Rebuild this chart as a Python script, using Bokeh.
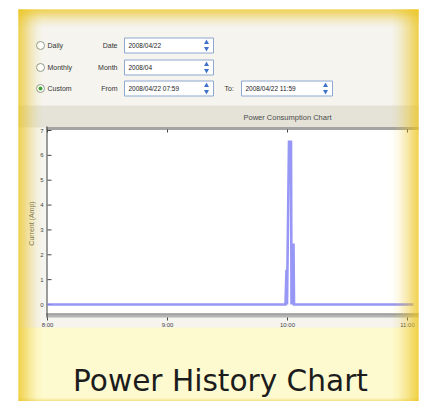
import math
import pandas as pd
from bokeh.plotting import figure
from bokeh.models import Range1d, ColumnDataSource
from bokeh.core.properties import value
from bokeh.embed import file_html
from bokeh.resources import INLINE

# ---------------- data ----------------
sample_times = ["2008-04-22 08:00:00", "2008-04-22 09:59:00", "2008-04-22 09:59:30",
                "2008-04-22 09:59:45", "2008-04-22 10:00:45", "2008-04-22 10:01:45",
                "2008-04-22 10:02:00", "2008-04-22 10:02:15", "2008-04-22 10:03:00",
                "2008-04-22 10:03:15", "2008-04-22 11:03:00"]
current_amp = [0, 0, 1.4, 0, 6.55, 6.55, 0, 2.4, 2.4, 0, 0]

x_tick_times = ["2008-04-22 08:00", "2008-04-22 09:00", "2008-04-22 10:00", "2008-04-22 11:00"]
x_tick_labels = ["8:00", "9:00", "10:00", "11:00"]
y_ticks = [0, 1, 2, 3, 4, 5, 6, 7]
y_tick_labels = ["0", "1", "2", "3", "4", "5", "6", "7"]

mode_labels = ["Daily", "Monthly", "Custom"]
mode_checked = [False, False, True]
field_labels = ["Date", "Month", "From"]
field_values = ["2008/04/22", "2008/04", "2008/04/22 07:59"]
to_label = "To:"
to_value = "2008/04/22 11:59"
chart_title = "Power Consumption Chart"
y_axis_title = "Current (Amp)"
caption = "Power History Chart"

# ---------------- layout (reference pixel coordinates) ----------------
W, H = 425, 401
REF_X0, REF_Y1 = 0, 401


def fy(ry):
    """reference y (down) -> figure y (up)"""
    return REF_Y1 - ry


t0 = pd.Timestamp(sample_times[0])
PX_PER_HOUR = 120.0
CHART_X0 = 47              # ref x of 8:00
ZERO_Y = 304               # ref y of value 0
PX_PER_UNIT = (304 - 130) / 7.0

time_start = t0 - pd.Timedelta(hours=(CHART_X0 - REF_X0) / PX_PER_HOUR)
time_end = t0 + pd.Timedelta(hours=(REF_X0 + W - CHART_X0) / PX_PER_HOUR)
val_bottom = -(REF_Y1 - ZERO_Y) / PX_PER_UNIT
val_top = (ZERO_Y - (REF_Y1 - H)) / PX_PER_UNIT

p = figure(width=W, height=H, output_backend="svg", toolbar_location=None,
           x_range=Range1d(REF_X0, REF_X0 + W), y_range=Range1d(0, H),
           x_axis_location=None, y_axis_location=None, title=None,
           min_border=0, outline_line_color=None,
           background_fill_color="white", border_fill_color="white")
p.grid.visible = False
p.extra_x_ranges = {"time": Range1d(time_start.to_pydatetime(), time_end.to_pydatetime())}
p.extra_y_ranges = {"val": Range1d(val_bottom, val_top)}

UI_FONT = value("Liberation Sans")


def rect(x0, x1, ry0, ry1, color, alpha=1.0, line=None):
    p.quad(left=[x0], right=[x1], top=[fy(ry0)], bottom=[fy(ry1)], fill_color=color,
           fill_alpha=alpha, line_color=line, line_width=1)


# frame base
rect(18, 418, 9, 401, "#fefad0")
# screenshot panel
rect(18, 418, 9, 327, "#f5f4ef")
rect(18, 418, 105, 127, "#e5e3d8")
# chart area
rect(46, 418, 128, 313, "#ffffff")
rect(46, 418, 126.5, 129.5, "#a4a4a4")
rect(46, 418, 313, 317, "#b4b4b4")
p.segment(x0=[46], x1=[418], y0=[fy(313.5)], y1=[fy(313.5)], line_color="#8a8a8a", line_width=1)
p.segment(x0=[46.5], x1=[46.5], y0=[fy(126)], y1=[fy(317)], line_color="#3a3a3a", line_width=1)

# chart title
p.text(x=[287], y=[fy(117)], text=[chart_title], text_align="center", text_baseline="middle",
       text_font=UI_FONT, text_font_size="7.5px", text_color="#4a4a4a")

# y ticks / labels
p.segment(x0=[47] * len(y_ticks), x1=[51] * len(y_ticks), y0=y_ticks, y1=y_ticks,
          y_range_name="val", line_color="#444444", line_width=1)
p.text(x=[43] * len(y_ticks), y=y_ticks, text=y_tick_labels, y_range_name="val",
       text_align="right", text_baseline="middle", text_font=UI_FONT,
       text_font_size="6px", text_color="#444444")
p.text(x=[31], y=[fy(223)], text=[y_axis_title], angle=math.pi / 2, text_align="center",
       text_baseline="middle", text_font=UI_FONT, text_font_size="7px", text_color="#666666")

# x ticks / labels
xt = [pd.Timestamp(t) for t in x_tick_times]
p.segment(x0=xt, x1=xt, y0=[fy(317)] * len(xt), y1=[fy(320)] * len(xt), x_range_name="time",
          line_color="#444444", line_width=1)
p.segment(x0=xt, x1=xt, y0=[fy(129)] * len(xt), y1=[fy(132)] * len(xt), x_range_name="time",
          line_color="#444444", line_width=1)
p.text(x=xt, y=[fy(324)] * len(xt), text=x_tick_labels, x_range_name="time",
       text_align="center", text_baseline="middle", text_font=UI_FONT,
       text_font_size="6px", text_color="#444444")

# data line
src = ColumnDataSource(dict(t=[pd.Timestamp(s) for s in sample_times], a=current_amp))
p.line(x="t", y="a", source=src, x_range_name="time", y_range_name="val",
       line_color="#8c8cf4", line_width=2.6, line_alpha=0.9, line_join="miter")

# ---------------- controls ----------------
row_y = [45, 67, 88]
for i in range(3):
    ry = row_y[i]
    p.scatter(x=[40], y=[fy(ry)], marker="circle", size=8, fill_color="white",
              line_color="#8f9a8f", line_width=1)
    if mode_checked[i]:
        p.scatter(x=[40], y=[fy(ry)], marker="circle", size=4, fill_color="#3aa33a",
                  line_color=None)
    p.text(x=[47], y=[fy(ry)], text=[mode_labels[i]], text_baseline="middle",
           text_font=UI_FONT, text_font_size="7px", text_color="#333333")
    p.text(x=[117], y=[fy(ry)], text=[field_labels[i]], text_align="right",
           text_baseline="middle", text_font=UI_FONT, text_font_size="7px", text_color="#333333")
    rect(124, 213, ry - 7.5, ry + 7.5, "white", line="#8ea8d0")
    p.text(x=[128], y=[fy(ry)], text=[field_values[i]], text_baseline="middle",
           text_font=UI_FONT, text_font_size="6.5px", text_color="#222222")
    p.scatter(x=[206, 206], y=[fy(ry - 3), fy(ry + 3)], marker="triangle", angle=[0, math.pi],
              size=5, fill_color="#3f72c8", line_color=None)

ry = row_y[2]
p.text(x=[224], y=[fy(ry)], text=[to_label], text_baseline="middle",
       text_font=UI_FONT, text_font_size="7px", text_color="#333333")
rect(241, 332, ry - 7.5, ry + 7.5, "white", line="#8ea8d0")
p.text(x=[245], y=[fy(ry)], text=[to_value], text_baseline="middle",
       text_font=UI_FONT, text_font_size="6.5px", text_color="#222222")
p.scatter(x=[325, 325], y=[fy(ry - 3), fy(ry + 3)], marker="triangle", angle=[0, math.pi],
          size=5, fill_color="#3f72c8", line_color=None)

# ---------------- yellow vignette ----------------
YEL = "#ecc41a"
L, R, T, B, A = [], [], [], [], []
gx0, gx1, gy0, gy1 = 18, 418, 9, 401
lw, rw, tw = 26, 30, 20
for i in range(lw):
    t = i / lw
    L.append(gx0 + i); R.append(gx0 + i + 1); T.append(fy(gy0)); B.append(fy(gy1))
    A.append(0.95 * (1 - t) ** 2)
for i in range(rw):
    t = i / rw
    L.append(gx1 - i - 1); R.append(gx1 - i); T.append(fy(gy0)); B.append(fy(gy1))
    A.append(1.0 * (1 - t) ** 2)
for i in range(tw):
    t = i / tw
    L.append(gx0); R.append(gx1); T.append(fy(gy0 + i)); B.append(fy(gy0 + i + 1))
    A.append(0.9 * (1 - t) ** 2)
for i in range(4):
    t = i / 4
    L.append(gx0); R.append(gx1); T.append(fy(gy1 - i - 1)); B.append(fy(gy1 - i))
    A.append(0.5 * (1 - t) ** 2)
p.quad(left=L, right=R, top=T, bottom=B, fill_color=YEL, fill_alpha=A, line_color=None)

# caption
p.text(x=[220], y=[fy(380)], text=[caption], text_align="center", text_baseline="alphabetic",
       text_font=value("DejaVu Sans"), text_font_size="29.6px", text_color="#1c1c1c")

open("out.html", "w").write(file_html(p, INLINE))
